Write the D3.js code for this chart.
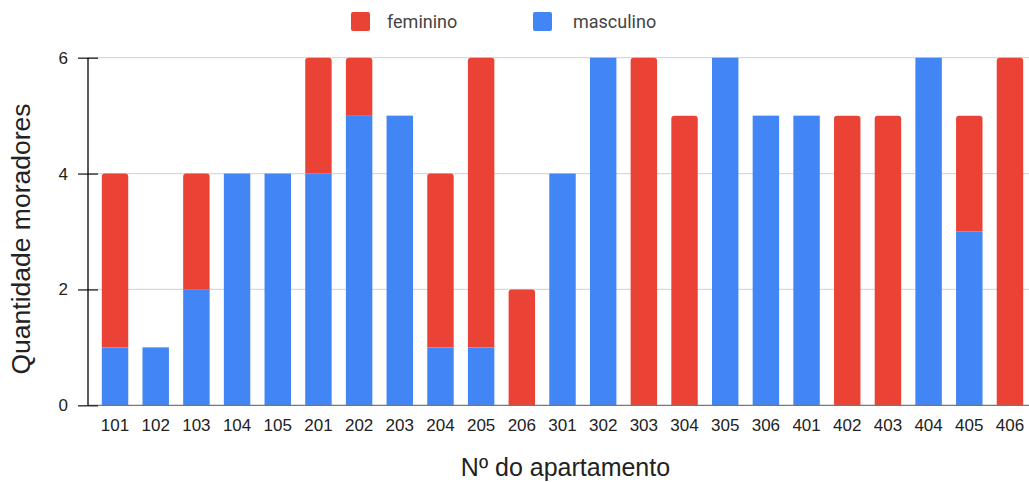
<!DOCTYPE html>
<html>
<head>
<meta charset="utf-8">
<script src="https://cdn.jsdelivr.net/npm/d3@7"></script>
<style>
  html, body { margin: 0; padding: 0; background: #fff; }
  svg { display: block; font-family: "Liberation Sans", Arial, sans-serif; }
</style>
</head>
<body>
<svg id="chart" width="1029" height="482"></svg>
<script>
// Apartments and number of residents by sex
const apartamentos = ["101","102","103","104","105","201","202","203","204","205","206",
                      "301","302","303","304","305","306","401","402","403","404","405","406"];
const masculino = [1, 1, 2, 4, 4, 4, 5, 5, 1, 1, 0, 4, 6, 0, 0, 6, 5, 5, 0, 0, 6, 3, 0];
const feminino  = [3, 0, 2, 0, 0, 2, 1, 0, 3, 5, 2, 0, 0, 6, 5, 0, 0, 0, 5, 5, 0, 2, 6];
const yTicks = [0, 2, 4, 6];
const series = ["masculino", "feminino"];
const legendOrder = ["feminino", "masculino"];
const colors = { feminino: "#EA4335", masculino: "#4285F4" };

const svg = d3.select("#chart");

const rows = apartamentos.map((a, i) => ({ apt: a, masculino: masculino[i], feminino: feminino[i] }));
const stacked = d3.stack().keys(series)(rows);

const x = d3.scaleBand().domain(apartamentos).range([94.7, 1030.3]).paddingInner(0.35).paddingOuter(0.175);
const y = d3.scaleLinear().domain([0, 6]).range([405.3, 57.7]);

// gridlines
svg.append("g")
  .selectAll("line").data(yTicks.filter(d => d > 0)).join("line")
  .attr("x1", 88).attr("x2", 1029)
  .attr("y1", d => y(d)).attr("y2", d => y(d))
  .attr("stroke", "#d9d9d9").attr("stroke-width", 1.2);

// bars; feminino segments get rounded upper corners
function topRoundedPath(x0, y0, w, h, r) {
  r = Math.min(r, h, w / 2);
  return `M${x0},${y0 + h}V${y0 + r}Q${x0},${y0} ${x0 + r},${y0}H${x0 + w - r}Q${x0 + w},${y0} ${x0 + w},${y0 + r}V${y0 + h}Z`;
}

stacked.forEach(layer => {
  const g = svg.append("g").attr("fill", colors[layer.key]);
  layer.forEach(d => {
    if (d[1] - d[0] <= 0) return;
    const x0 = x(d.data.apt), w = x.bandwidth();
    const yt = y(d[1]), h = y(d[0]) - y(d[1]);
    if (layer.key === "feminino") {
      g.append("path").attr("d", topRoundedPath(x0, yt, w, h, 3));
    } else {
      g.append("rect").attr("x", x0).attr("y", yt).attr("width", w).attr("height", h);
    }
  });
});

// baseline at zero
svg.append("line")
  .attr("x1", 88).attr("x2", 1029).attr("y1", y(0)).attr("y2", y(0))
  .attr("stroke", "#777").attr("stroke-width", 1.2);

// y axis
const yAxis = svg.append("g").attr("transform", "translate(88,0)")
  .call(d3.axisLeft(y).tickValues(yTicks).tickFormat(d3.format("d")).tickSize(9).tickPadding(8));
yAxis.select(".domain").remove();
yAxis.append("line").attr("x1", 0).attr("x2", 0).attr("y1", y(6)).attr("y2", y(0))
  .attr("stroke", "#000").attr("stroke-width", 1.3);
yAxis.selectAll(".tick line").attr("stroke", "#222").attr("stroke-width", 1.3).attr("x2", 10).attr("x1", -10);
yAxis.selectAll(".tick text").attr("font-size", 17).attr("fill", "#222")
  .attr("font-family", "'Liberation Sans', Arial, sans-serif").attr("x", -20);

// x axis labels
const xAxis = svg.append("g").attr("transform", `translate(0,${y(0)})`)
  .call(d3.axisBottom(x).tickSize(0).tickPadding(0));
xAxis.select(".domain").remove();
xAxis.selectAll(".tick text").attr("font-size", 17).attr("fill", "#222")
  .attr("font-family", "'Liberation Sans', Arial, sans-serif")
  .attr("dy", null).attr("y", 26);

// axis titles
svg.append("text").attr("x", 565.5).attr("y", 476).attr("text-anchor", "middle")
  .attr("font-size", 25).attr("fill", "#222").text("Nº do apartamento");
svg.append("text").attr("transform", "translate(30,239) rotate(-90)").attr("text-anchor", "middle")
  .attr("font-size", 26.5).attr("fill", "#222").text("Quantidade moradores");

// legend
const legendX = { feminino: 351, masculino: 533 };
legendOrder.forEach(k => {
  const g = svg.append("g").attr("transform", `translate(${legendX[k]},12)`);
  g.append("rect").attr("width", 19).attr("height", 19).attr("rx", 2).attr("fill", colors[k]);
  g.append("text").attr("x", k === "feminino" ? 36 : 40).attr("y", 15.5)
    .attr("font-size", 18).attr("fill", "#444")
    .attr("font-family", "Roboto, 'Liberation Sans', sans-serif").text(k);
});
</script>
</body>
</html>
